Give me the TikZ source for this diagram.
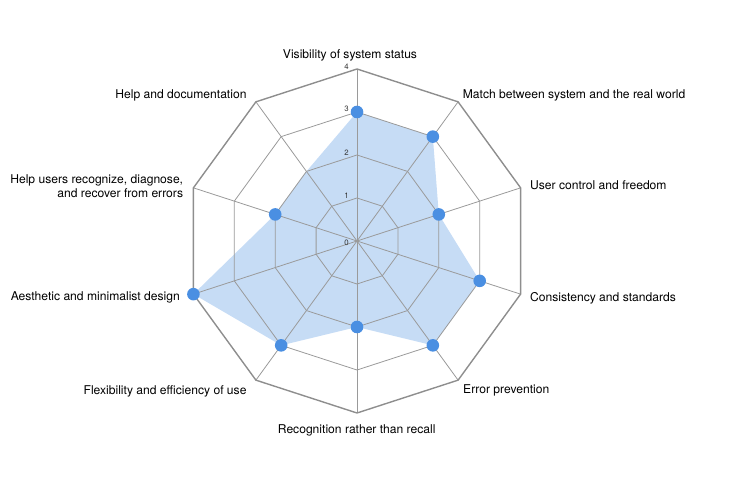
\documentclass[tikz,border=0pt]{standalone}
\usepackage{fontspec}
\setmainfont{TeX Gyre Heros}
\definecolor{areablue}{HTML}{C6DCF5}
\definecolor{dotblue}{HTML}{4A8FE2}
\definecolor{gridgray}{HTML}{9A9A9A}
\definecolor{outergray}{HTML}{8E8E8E}
\begin{document}
\begin{tikzpicture}[x=1pt,y=1pt,
  axislabel/.style={inner sep=0pt, text height=8.6pt, text depth=0pt, font=\fontsize{12.1}{14}\selectfont},
  multilabel/.style={inner sep=0pt, align=right, font=\fontsize{12.1}{13.7}\selectfont},
  ticklabel/.style={inner sep=0pt, font=\fontsize{7.8}{8}\selectfont, text=black!80},
  gridline/.style={draw=gridgray, line width=0.8pt},
  outerline/.style={draw=outergray, line width=1.4pt, line join=miter},
  areafill/.style={fill=areablue},
  datadot/.style={fill=dotblue}]
\useasboundingbox (0,0) rectangle (730,486);
\begin{scope}[shift={(357,245)}]
  \foreach \v [count=\i from 0] in {3,3,2,3,3,2,3,4,2,2}
    \coordinate (p\i) at ({90-36*\i}:{\v*43});
  \fill[areafill] (p0) -- (p1) -- (p2) -- (p3) -- (p4) -- (p5) -- (p6) -- (p7) -- (p8) -- (p9) -- cycle;
  \foreach \r in {1,2,3}
    \draw[gridline] (90:{\r*43}) \foreach \k in {1,...,9}{ -- ({90-36*\k}:{\r*43})} -- cycle;
  \foreach \k in {0,...,9}
    \draw[gridline] (0,0) coordinate (ctr) -- ({90-36*\k}:172) coordinate (v\k);
  \draw[outerline] (v0) -- (v1) -- (v2) -- (v3) -- (v4) -- (v5) -- (v6) -- (v7) -- (v8) -- (v9) -- cycle;
  \foreach \i in {0,...,8}
    \fill[datadot] (p\i) circle (6.3);
  \node[ticklabel] (t0) at (-10.5,-1.5) {0};
  \foreach \r in {1,2,3,4}
    \node[ticklabel] (t\r) at (-10.5,{\r*43+2.7}) {\r};
\end{scope}
\node[axislabel] (l0) at (350,432) {Visibility of system status};
\node[axislabel, anchor=west] (l1) at (462.7,392) {Match between system and the real world};
\node[axislabel, anchor=west] (l2) at (530,300.3) {User control and freedom};
\node[axislabel, anchor=west] (l3) at (530,188.3) {Consistency and standards};
\node[axislabel, anchor=west] (l4) at (463,97) {Error prevention};
\node[axislabel] (l5) at (356.7,57) {Recognition rather than recall};
\node[axislabel, anchor=east] (l6) at (246.7,96) {Flexibility and efficiency of use};
\node[axislabel, anchor=east] (l7) at (180,190) {Aesthetic and minimalist design};
\node[multilabel, anchor=east] (l8) at (183.3,300.1) {Help users recognize, diagnose,\\and recover from errors};
\node[axislabel, anchor=east] (l9) at (246.7,392) {Help and documentation};
\end{tikzpicture}
\end{document}
